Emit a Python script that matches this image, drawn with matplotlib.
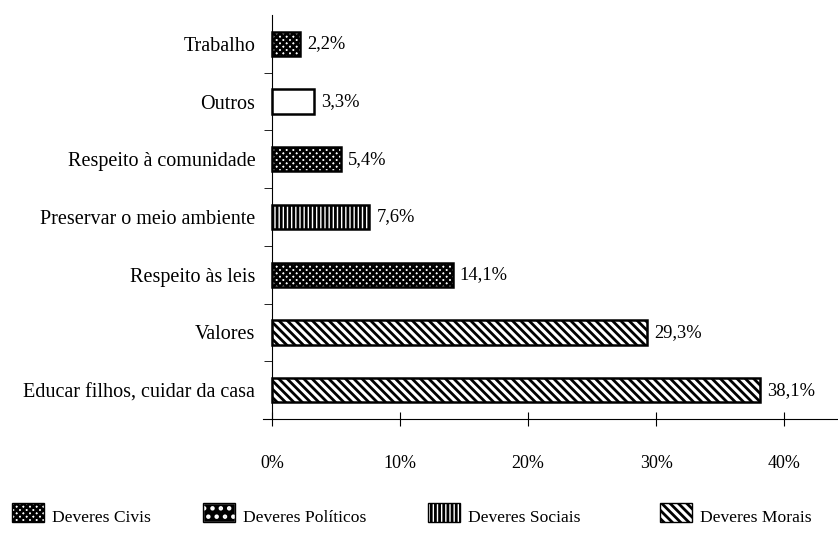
import matplotlib
matplotlib.use("Agg")
import matplotlib.pyplot as plt
from matplotlib.patches import Rectangle

plt.rcParams['font.family'] = ['Liberation Serif', 'DejaVu Serif']
plt.rcParams['hatch.linewidth'] = 2.0

categories = ["Educar filhos, cuidar da casa", "Valores", "Respeito às leis",
              "Preservar o meio ambiente", "Respeito à comunidade", "Outros", "Trabalho"]
values = [38.1, 29.3, 14.1, 7.6, 5.4, 3.3, 2.2]
groups = ["Morais", "Morais", "Civis", "Sociais", "Civis", "Outros", "Civis"]
xticks = [0, 10, 20, 30, 40]
legend_labels = ["Deveres Civis", "Deveres Políticos", "Deveres Sociais", "Deveres Morais"]

styles = {
    "Civis": dict(facecolor="white", hatch="xxxxx"),
    "Politicos": dict(facecolor="black", hatch=".."),
    "Sociais": dict(facecolor="white", hatch="||||"),
    "Morais": dict(facecolor="white", hatch="\\\\\\\\"),
    "Outros": dict(facecolor="white", hatch=None),
}

FS_CAT = 14.5
FS_VAL = 13.3
FS_TICK = 13
FS_LEG = 12.6

fig = plt.figure(figsize=(8.38, 5.34), dpi=100)
ax = fig.add_axes([263 / 838, 1 - 419 / 534, (838 - 263) / 838, (419 - 15) / 534])

for i, (v, g) in enumerate(zip(values, groups)):
    st = styles[g]
    ax.barh(i, v, height=0.42, facecolor=st["facecolor"], hatch=st["hatch"],
            edgecolor="black", linewidth=1.8)
    ax.text(v + 0.55, i, f"{v:.1f}%".replace(".", ","), va="center", ha="left", fontsize=FS_VAL)

ax.set_xlim(-0.7, 44.2)
ax.set_ylim(-0.5, 6.5)
ax.spines['left'].set_position(('data', 0))
ax.spines['top'].set_visible(False)
ax.spines['right'].set_visible(False)
ax.set_xticks(xticks)
ax.set_xticklabels([f"{t}%" for t in xticks], fontsize=FS_TICK)
ax.tick_params(axis='x', direction='inout', length=10, pad=21)
ax.set_yticks(range(len(categories)))
ax.set_yticklabels(categories, fontsize=FS_CAT)
ax.tick_params(axis='y', length=0, pad=12)
ax.set_yticks([k + 0.5 for k in range(len(categories) - 1)], minor=True)
ax.tick_params(axis='y', which='minor', direction='out', length=6)

# legend drawn in figure coordinates
W, H = 838, 534
legend_x = [12, 203, 428, 660]
legend_keys = ["Civis", "Politicos", "Sociais", "Morais"]
for x0, key, lab in zip(legend_x, legend_keys, legend_labels):
    st = styles[key]
    ec = "white" if key == "Politicos" else "black"
    rect = Rectangle((x0 / W, 1 - 522 / H), 32 / W, 19 / H, transform=fig.transFigure,
                     facecolor=st["facecolor"], hatch=st["hatch"], edgecolor=ec, linewidth=1.0)
    fig.add_artist(rect)
    if key == "Politicos":
        fig.add_artist(Rectangle((x0 / W, 1 - 522 / H), 32 / W, 19 / H, transform=fig.transFigure,
                                 facecolor="none", edgecolor="black", linewidth=1.0))
    fig.text((x0 + 40) / W, 1 - 518 / H, lab, fontsize=FS_LEG, va="center", ha="left")

fig.savefig("out.png", dpi=100)
